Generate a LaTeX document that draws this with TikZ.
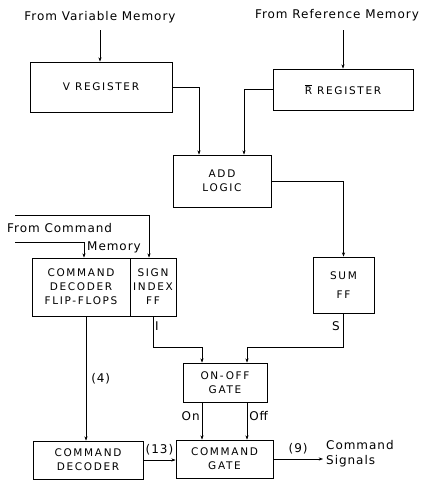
\documentclass[tikz,border=0pt]{standalone}
\usepackage{fontspec}
\setsansfont{DejaVu Sans}
\newfontfamily\boxfont{DejaVu Sans}[LetterSpace=16]
\newfontfamily\lblfont{DejaVu Sans}[LetterSpace=8]
\usetikzlibrary{arrows.meta,calc}
\tikzset{arr/.style={-{Stealth[length=1.5mm,width=1.1mm]},line width=.5pt},
         blk/.style={draw,line width=.8pt,inner sep=0pt,align=center,
           font=\boxfont\fontsize{10.5}{14}\selectfont},
         lbl/.style={font=\lblfont\fontsize{12}{15}\selectfont,inner sep=1pt}}
\begin{document}
\begin{tikzpicture}[x=1pt,y=-1pt]
  \useasboundingbox (0,0) rectangle (432,482);
  % blocks
  \node[blk,minimum width=142,minimum height=50] (vreg) at (101,87) {V REGISTER};
  \node[blk,minimum width=140,minimum height=41] (rreg) at (343,89.5)
    {$\overline{\hbox{R}}$ REGISTER};
  \node[blk,minimum width=98,minimum height=52] (add) at (222,181) {ADD\\LOGIC};
  \node[blk,minimum width=61,minimum height=56] (sum) at (343.5,285) {SUM\\[5pt]FF};
  \node[blk,minimum width=98,minimum height=58] (cdff) at (81,287)
    {COMMAND\\DECODER\\FLIP-FLOPS};
  \node[blk,minimum width=46,minimum height=58] (sign) at (153,287)
    {SIGN\\INDEX\\FF};
  \node[blk,minimum width=84,minimum height=39] (onoff) at (225,382.5) {ON-OFF\\GATE};
  \node[blk,minimum width=110,minimum height=38] (cdec) at (88,460) {COMMAND\\DECODER};
  \node[blk,minimum width=97,minimum height=38] (cgate) at (224.5,459) {COMMAND\\GATE};
  % inputs and outputs
  \node[lbl] (fvm) at (100,17) {From Variable Memory};
  \node[lbl] (frm) at (337,15) {From Reference Memory};
  \node[lbl,anchor=west] (fcm) at (6,228) {From Command};
  \node[lbl,anchor=west] (fcm2) at (86,247) {Memory};
  \node[lbl,align=left,anchor=west] (sig) at (325,454) {Command\\Signals};
  \coordinate (cm1) at (15,215);
  \coordinate (cm2) at (15,242);
  \coordinate (bus) at (0,347);
  \coordinate (out) at (323,459);
  % connectors
  \draw[arr] (fvm.south |- 0,30) -- (fvm.south |- vreg.north);
  \draw[arr] (rreg.north |- 0,30) -- (rreg.north);
  \draw[arr] (vreg.east) -| ([xshift=-23]add.north);
  \draw[arr] (rreg.west) -| ([xshift=22]add.north);
  \draw[arr] (add.east) -| (sum.north);
  \draw[arr] (cm1) -| ([xshift=-4]sign.north);
  \draw[arr] (cm2) -| ([xshift=3]cdff.north);
  \draw[arr] ([xshift=5]cdff.south) -- ([xshift=5]cdff.south |- cdec.north)
    node[lbl,pos=.5,right=4pt] {(4)};
  \draw[arr] (sign.south) -- (sign.south |- bus) -| ([xshift=-23]onoff.north);
  \draw[arr] (sum.south) -- (sum.south |- bus) -| ([xshift=22]onoff.north);
  \draw[arr] ([xshift=-23]onoff.south) -- ([xshift=-23]onoff.south |- cgate.north)
    node[lbl,pos=.37,left=1pt] {On};
  \draw[arr] ([xshift=22]onoff.south) -- ([xshift=22]onoff.south |- cgate.north)
    node[lbl,pos=.37,right=1pt] {Off};
  \draw[arr] (cdec.east) -- (cdec.east -| cgate.west)
    node[lbl,pos=.5,above=4pt] {(13)};
  \draw[arr] (cgate.east) -- (out) node[lbl,pos=.5,above=4pt] {(9)};
  \node[lbl] at (157,326) {I};
  \node[lbl] at (336,326) {S};
\end{tikzpicture}
\end{document}
